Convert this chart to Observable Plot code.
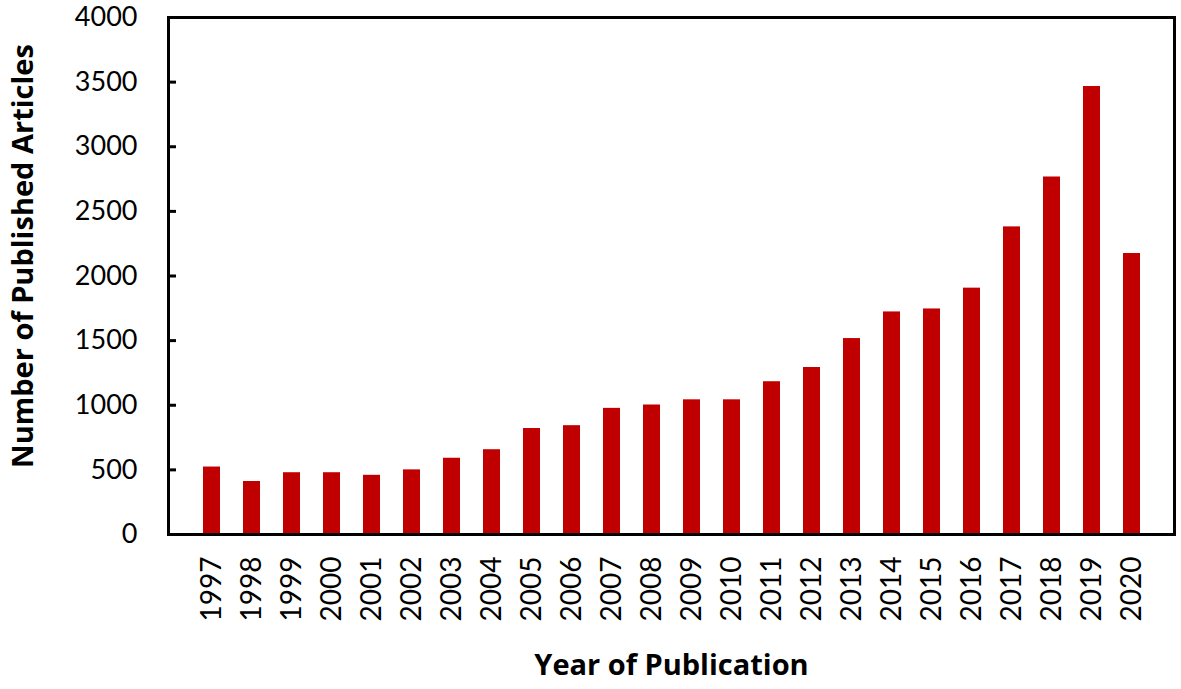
<!DOCTYPE html>
<html>
<head>
<meta charset="utf-8">
<script src="https://cdn.jsdelivr.net/npm/d3@7"></script>
<script src="https://cdn.jsdelivr.net/npm/@observablehq/plot@0.6"></script>
<style>
  body { margin: 0; background: #fff; }
  #chart svg { display: block; }
</style>
</head>
<body>
<div id="chart"></div>
<script>
const years = ["1997","1998","1999","2000","2001","2002","2003","2004","2005","2006","2007","2008","2009","2010","2011","2012","2013","2014","2015","2016","2017","2018","2019","2020"];
const articles = [522, 410, 478, 478, 458, 500, 590, 656, 820, 842, 976, 1002, 1042, 1042, 1182, 1292, 1516, 1722, 1745, 1906, 2380, 2766, 3466, 2174];
const yTicks = [0, 500, 1000, 1500, 2000, 2500, 3000, 3500, 4000];
const yTitle = "Number of Published Articles";
const xTitle = "Year of Publication";

const data = years.map((y, i) => ({year: y, value: articles[i]}));
const font = "Lato, 'Open Sans', sans-serif";
const titleFont = "'Open Sans', Lato, sans-serif";

const chart = Plot.plot({
  width: 1181,
  height: 689,
  marginLeft: 168,
  marginRight: 7,
  marginTop: 17,
  marginBottom: 155,
  style: {fontFamily: font, fontSize: "27px", color: "#000", background: "#fff"},
  x: {domain: years, padding: 0.58, label: null},
  y: {domain: [0, 4000], label: null},
  marks: [
    Plot.barY(data, {x: "year", y: "value", fill: "#C00000"}),
    Plot.axisY({ticks: yTicks, tickFormat: d => String(d), tickSize: 0, tickPadding: 31, fontSize: 27, label: null}),
    Plot.axisY({ticks: yTicks, tickSize: 8, dx: 8, text: null, strokeWidth: 3, label: null}),
    Plot.axisX({tickSize: 0, tickPadding: 22, tickRotate: -90, fontSize: 28, label: null}),
    Plot.frame({stroke: "#000", strokeWidth: 3}),
    Plot.text([yTitle], {frameAnchor: "left", dx: -145, dy: -20, rotate: -90, textAnchor: "middle", lineAnchor: "middle", text: d => d, fontWeight: "bold", fontSize: 29, fontFamily: titleFont}),
    Plot.text([xTitle], {frameAnchor: "bottom", dy: 131, textAnchor: "middle", lineAnchor: "middle", text: d => d, fontWeight: "bold", fontSize: 29, fontFamily: titleFont})
  ]
});
document.getElementById("chart").appendChild(chart);
</script>
</body>
</html>
